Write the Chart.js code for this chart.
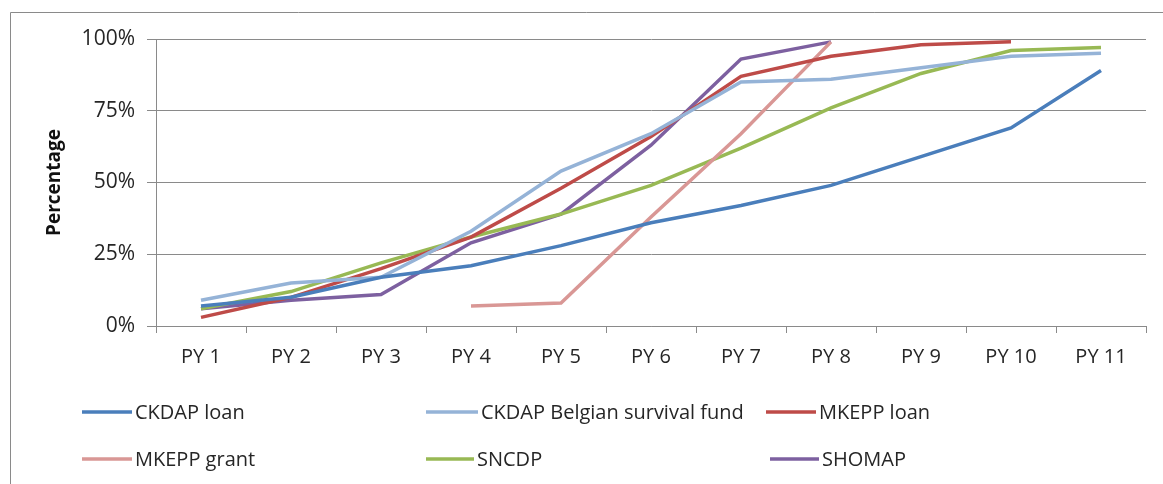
<!DOCTYPE html>
<html>
<head>
<meta charset="utf-8">
<script src="https://cdn.jsdelivr.net/npm/chart.js@4.4.1/dist/chart.umd.min.js"></script>
<style>
  html, body { margin: 0; padding: 0; background: #fff; }
  #wrap { width: 1163px; height: 484px; position: relative; }
</style>
</head>
<body>
<div id="wrap"><canvas id="chart" width="1163" height="484"></canvas></div>
<script>
const years = ['PY 1', 'PY 2', 'PY 3', 'PY 4', 'PY 5', 'PY 6', 'PY 7', 'PY 8', 'PY 9', 'PY 10', 'PY 11'];
const yTicks = [0, 25, 50, 75, 100];

const seriesNames = ['CKDAP loan', 'CKDAP Belgian survival fund', 'MKEPP loan', 'MKEPP grant', 'SNCDP', 'SHOMAP'];
const ckdapLoan    = [7, 10, 17, 21, 28, 36, 42, 49, 59, 69, 89];
const ckdapBelgian = [9, 15, 17, 33, 54, 67, 85, 86, 90, 94, 95];
const mkeppLoan    = [3, 10, 20, 31, 48, 66, 87, 94, 98, 99, null];
const mkeppGrant   = [null, null, null, 7, 8, 38, 67, 99, null, null, null];
const sncdp        = [6, 12, 22, 31, 39, 49, 62, 76, 88, 96, 97];
const shomap       = [6, 9, 11, 29, 39, 63, 93, 99, null, null, null];

const colors = ['#4a7ebb', '#95b3d7', '#be4b48', '#d99795', '#98b954', '#7d60a0'];

// legend slots as in the original: [x of line start, y, line length]
const legendSlots = [[82, 412, 50], [426, 412, 52], [766, 412, 50], [82, 459, 50], [426, 459, 48], [770, 459, 49]];

const FONT = '"Open Sans", "Noto Sans", sans-serif';
Chart.defaults.font.family = FONT;
Chart.defaults.color = '#262626';

const seriesData = [ckdapLoan, ckdapBelgian, mkeppLoan, mkeppGrant, sncdp, shomap];
const datasets = seriesNames.map((name, i) => ({
    label: name,
    data: seriesData[i],
    borderColor: colors[i],
    backgroundColor: colors[i],
    borderWidth: 3.5,
    pointRadius: 0,
    tension: 0,
    spanGaps: false
}));

const framePlugin = {
    id: 'frameAndLegend',
    afterDraw(chart) {
        const c = chart.ctx;
        c.save();
        // outer frame (left and top edges visible)
        c.strokeStyle = '#8a8a8a';
        c.lineWidth = 1;
        c.beginPath();
        c.moveTo(10.5, 484);
        c.lineTo(10.5, 12.5);
        c.lineTo(1163, 12.5);
        c.stroke();

        // legend
        c.font = '20px ' + FONT;
        c.textBaseline = 'middle';
        c.fillStyle = '#262626';
        chart.data.datasets.forEach((ds, i) => {
            const [x, y, len] = legendSlots[i];
            c.strokeStyle = ds.borderColor;
            c.lineWidth = 3.5;
            c.beginPath();
            c.moveTo(x, y);
            c.lineTo(x + len, y);
            c.stroke();
            c.fillText(ds.label, x + len + 3, y + 1);
        });
        c.restore();
    }
};

new Chart(document.getElementById('chart').getContext('2d'), {
    type: 'line',
    data: { labels: years, datasets: datasets },
    options: {
        responsive: false,
        animation: false,
        layout: { padding: { top: 39, right: 17, bottom: 0, left: 0 } },
        plugins: { legend: { display: false }, tooltip: { enabled: false } },
        scales: {
            x: {
                offset: true,
                grid: { offset: true, drawOnChartArea: false, drawTicks: true, tickLength: 7, color: '#8a8a8a' },
                border: { color: '#8a8a8a' },
                ticks: { font: { size: 20 }, padding: 12, maxRotation: 0, autoSkip: false },
                afterFit: (scale) => { scale.height = 158; }
            },
            y: {
                min: 0,
                max: 100,
                afterBuildTicks: (scale) => { scale.ticks = yTicks.map(v => ({ value: v })); },
                grid: { color: '#8a8a8a', tickLength: 9 },
                border: { color: '#8a8a8a' },
                ticks: { font: { size: 21 }, padding: 12, callback: (v) => v + '%' },
                title: { display: true, text: 'Percentage', font: { size: 19, weight: 'bold' }, color: '#111', padding: { top: 43, bottom: 0 } },
                afterFit: (scale) => { scale.width = 156; }
            }
        }
    },
    plugins: [framePlugin]
});
</script>
</body>
</html>
